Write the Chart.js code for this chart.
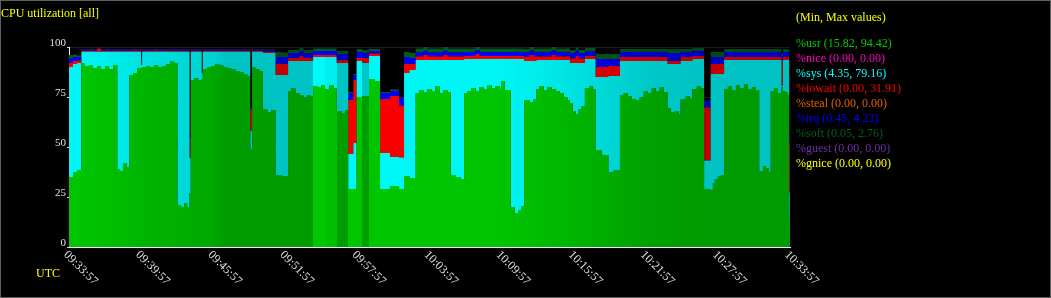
<!DOCTYPE html>
<html>
<head>
<meta charset="utf-8">
<title>CPU utilization [all]</title>
<script src="https://cdn.jsdelivr.net/npm/chart.js@4.4.1/dist/chart.umd.min.js"></script>
<style>
  html, body { margin: 0; padding: 0; background: #000; }
  #wrap { width: 1051px; height: 298px; }
</style>
</head>
<body>
<div id="wrap"><canvas id="cpuChart" width="1051" height="298"></canvas></div>
<script>
// Sample start times, seconds after 09:33:57
const secs = [
  0, 20, 40,
  62, 80, 100, 120, 140, 160, 180, 200, 220,
  241, 255, 270, 287,
  302, 320, 340, 360, 365, 385, 405, 425, 445, 465, 485, 505, 525,
  541, 560, 575, 590, 602,
  608, 625, 645, 663,
  668, 690, 710, 730, 750, 770, 790, 810, 830, 850, 870, 890, 905,
  914, 930, 950,
  968, 990, 1010,
  1031, 1060,
  1094, 1110, 1130, 1150, 1170, 1190, 1205,
  1219, 1240, 1260,
  1278, 1300, 1320,
  1336, 1360, 1380,
  1394, 1420,
  1436, 1464, 1498, 1525,
  1553, 1603, 1648, 1673, 1700,
  1731, 1750, 1770, 1790, 1810, 1830, 1850, 1870, 1890,
  1906, 1930, 1955,
  1973, 1990, 2010, 2030, 2050, 2070, 2090, 2110, 2130, 2150, 2160, 2175,
  2206, 2225, 2245, 2260,
  2273, 2300, 2320,
  2334, 2350, 2370, 2390, 2410, 2430, 2450, 2470, 2490,
  2501, 2515, 2530, 2545, 2560,
  2576, 2600, 2615,
  2629, 2660, 2693, 2720,
  2751, 2770, 2790,
  2809, 2830, 2850, 2870, 2890, 2910, 2930, 2950, 2970,
  2988, 3005, 3025, 3045,
  3054, 3080, 3100,
  3113, 3135, 3155,
  3171, 3204, 3215, 3225, 3240, 3255,
  3271, 3290, 3310, 3330, 3350, 3370, 3390, 3410, 3430,
  3446, 3465, 3480, 3495,
  3504, 3520, 3540, 3558, 3565, 3580, 3590,
  3596, 3600,
]

const usr = [
  35, 37.5, 38.5,
  92, 90.5, 91, 89.5, 90.5, 89, 90.5, 89, 91,
  39, 38, 42, 40,
  86, 87, 89.5, 89.5, 90, 90.5, 90, 91, 90, 90.5, 91.5, 93, 92,
  21, 20, 22, 20, 27,
  83.5, 84.5, 83.5, 84,
  89, 90, 90.5, 91.5, 91, 90, 89.5, 89, 88, 87.5, 86.5, 85.5, 49,
  90, 89, 88,
  69, 67.5, 68.5,
  36, 35.5,
  78, 79.5, 77, 76, 75, 76, 75.5,
  80.5, 80, 81,
  79, 81, 79.5,
  68, 67, 68.5,
  29, 29,
  75, 75.5, 84, 83,
  29, 30.5, 29, 35.5, 34.5,
  77, 78.5, 77.5, 79, 78, 80.5, 77, 78.5, 77.5,
  36, 35, 34,
  77, 78, 79.5, 78, 80, 79, 81, 79.5, 80.5, 79, 83, 78.5,
  20, 17, 18.5, 20.5,
  73.5, 72.5, 74,
  79, 80.5, 78.5, 80, 79, 78, 77, 75, 73.5,
  72, 68, 66.5, 69, 70.5,
  79.5, 80.5, 79,
  48.5, 46, 37.5, 38.5,
  76, 77, 75.5,
  74, 73.5, 75, 78, 77, 79.5, 78, 80, 77.5,
  69.5, 67.5, 68, 66.5,
  74, 75.5, 74.5,
  79, 80.5, 79.5,
  29, 28.5, 32, 34, 35.5, 36,
  79, 80.5, 78.5, 81, 79.5, 81.5, 79, 80, 78.5,
  38, 40.5, 39.5, 37.5,
  78, 79.5, 77, 80, 78, 77.5, 76,
  15.8, 15.8,
]

const sys = [
  55, 54, 53.5,
  5.6, 7.1, 6.6, 8.1, 7.1, 8.6, 7.1, 8.6, 6.6,
  58.6, 59.6, 55.6, 57.6,
  11.6, 10.6, 8.1, 1.5, 7.6, 7.1, 7.6, 6.6, 7.6, 7.1, 6.1, 4.6, 5.6,
  76.6, 77.6, 75.6, 77.6, 17.5,
  14.1, 13.1, 14.1, 3,
  8.6, 7.6, 7.1, 6.1, 6.6, 7.6, 8.1, 8.6, 9.6, 10.1, 11.1, 12.1, 9,
  7.6, 8.6, 9.6,
  28, 29.5, 28.5,
  50, 50.5,
  15, 13.5, 16, 17, 18, 17, 17.5,
  14.5, 15, 14,
  16, 14, 15.5,
  24, 25, 23.5,
  17.5, 23,
  18, 16.5, 11.5, 12.5,
  18, 14.5, 15.8, 51.5, 54,
  16.5, 15, 16, 14.5, 15.5, 13, 16.5, 15, 16,
  57.5, 58.5, 59.5,
  17, 16, 14.5, 16, 14, 15, 13, 14.5, 13.5, 15, 11, 15.5,
  74, 77, 75.5, 73.5,
  19.5, 20.5, 19,
  14.5, 13, 15, 13.5, 14.5, 15.5, 16.5, 18.5, 20,
  20, 24, 25.5, 23, 21.5,
  14.5, 13.5, 15,
  36.5, 39, 48, 47,
  17, 16, 17.5,
  19, 19.5, 18, 15, 16, 13.5, 15, 13, 15.5,
  22, 24, 23.5, 25,
  19, 17.5, 18.5,
  15, 13.5, 14.5,
  14.2, 58, 54.5, 52.5, 51, 50.5,
  14.5, 13, 15, 12.5, 14, 12, 14.5, 13.5, 15,
  55.5, 53, 54, 56,
  15.5, 14, 16.5, 0.5, 15.5, 16, 17.5,
  11.5, 11.5,
]

const iowait = [
  2, 1.5, 1.2,
  0.5, 0.4, 0.6, 0.5, 1.5, 0.5, 0.5, 0.4, 0.5,
  0.5, 0.5, 0.5, 0.5,
  0.5, 0.6, 0.5, 2.5, 0.5, 0.5, 0.5, 0.6, 0.5, 0.5, 0.5, 0.5, 0.5,
  0.5, 0.5, 0.5, 0.5, 10,
  0.5, 0.5, 0.5, 2,
  0.5, 0.5, 0.5, 0.5, 0.5, 0.5, 0.5, 0.5, 0.5, 0.5, 0.5, 0.5, 11,
  0.5, 0.5, 0.5,
  0.6, 0.6, 0.6,
  5.5, 5.5,
  1.5, 1.5, 1.5, 2.5, 1.5, 1.5, 1.5,
  1, 1, 1,
  1, 1, 1,
  1.5, 1.5, 1.5,
  27, 31.5,
  1.5, 2.5, 1.2, 1.2,
  27, 30.5, 25.8, 4.5, 3,
  1.7, 1.7, 2.5, 1.7, 1.7, 1.7, 1.7, 2.5, 1.7,
  1.7, 1.7, 1.7,
  1.5, 1.5, 1.5, 2.5, 1.5, 1.5, 1.5, 1.5, 1.5, 1.5, 1.5, 1.5,
  1.5, 1.5, 1.5, 1.5,
  2, 3, 2,
  1.8, 1.8, 1.8, 1.8, 2.5, 1.8, 1.8, 1.8, 1.8,
  2.2, 2.2, 3.5, 2.2, 2.2,
  1.5, 1.5, 1.5,
  5, 5, 5, 5,
  2, 2, 2,
  2, 2, 2, 2, 2, 2, 2, 2, 2,
  1.5, 1.5, 1.5, 1.5,
  2, 2, 2,
  1.5, 1.5, 1.5,
  26.6, 5, 5, 5, 5, 5,
  1.5, 1.5, 1.5, 1.5, 1.5, 1.5, 1.5, 1.5, 1.5,
  1.5, 1.5, 1.5, 1.5,
  1.5, 1.5, 1.5, 12.5, 1.5, 1.5, 1.5,
  25, 25,
]

const irq = [
  2.5, 2, 1.7,
  0.6, 0.7, 0.6, 0.6, 0.5, 0.6, 0.7, 0.6, 0.6,
  0.6, 0.6, 0.6, 0.6,
  0.6, 0.6, 0.6, 0.5, 0.6, 0.6, 0.6, 0.6, 0.6, 0.6, 0.6, 0.6, 0.6,
  0.6, 0.6, 0.6, 0.6, 1,
  0.6, 0.6, 0.6, 0.5,
  0.6, 0.6, 0.6, 0.6, 0.6, 0.6, 0.6, 0.6, 0.6, 0.6, 0.6, 0.6, 1,
  0.6, 0.6, 0.6,
  0.8, 0.8, 0.8,
  3.5, 3.5,
  2.5, 2.5, 2.5, 2.5, 2.5, 2.5, 2.5,
  2, 2, 2,
  2, 2, 2,
  3, 3, 3,
  3.5, 2.5,
  3, 2.5, 1.3, 1.3,
  3, 2.5, 4.2, 3.5, 3,
  2.1, 2.1, 2.1, 2.1, 2.1, 2.1, 2.1, 2.1, 2.1,
  2.1, 2.1, 2.1,
  2, 2, 2, 2, 2, 2, 2, 2, 2, 2, 2, 2,
  2, 2, 2, 2,
  2.3, 2.3, 2.3,
  2.2, 2.2, 2.2, 2.2, 2.2, 2.2, 2.2, 2.2, 2.2,
  2.8, 2.8, 2.8, 2.8, 2.8,
  2.2, 2.2, 2.2,
  4, 4, 3.5, 3.5,
  2.5, 2.5, 2.5,
  2.5, 2.5, 2.5, 2.5, 2.5, 2.5, 2.5, 2.5, 2.5,
  4, 4, 4, 4,
  2.5, 2.5, 2.5,
  2.5, 2.5, 2.5,
  3.3, 3.5, 3.5, 3.5, 3.5, 3.5,
  2.5, 2.5, 2.5, 2.5, 2.5, 2.5, 2.5, 2.5, 2.5,
  2.5, 2.5, 2.5, 2.5,
  2.5, 2.5, 2.5, 2.5, 2.5, 2.5, 2.5,
  4.2, 4.2,
]

const soft = [
  1.5, 1.2, 0.9,
  0.3, 0.3, 0.3, 0.3, 0.3, 0.3, 0.3, 0.3, 0.3,
  0.3, 0.3, 0.3, 0.3,
  0.3, 0.3, 0.3, 0.3, 0.3, 0.3, 0.3, 0.3, 0.3, 0.3, 0.3, 0.3, 0.3,
  0.3, 0.3, 0.3, 0.3, 0.3,
  0.3, 0.3, 0.3, 0.3,
  0.3, 0.3, 0.3, 0.3, 0.3, 0.3, 0.3, 0.3, 0.3, 0.3, 0.3, 0.3, 0.2,
  0.3, 0.3, 0.3,
  0.4, 0.4, 0.4,
  2.5, 2.3,
  1.5, 1.5, 1.5, 1.5, 1.5, 1.5, 1.5,
  1.2, 1.2, 1.2,
  1.2, 1.2, 1.2,
  1.5, 1.5, 1.5,
  0.5, 0.5,
  1.5, 1.5, 1, 1,
  0.5, 0.8, 0.1, 2.5, 2.5,
  2, 2, 2, 2, 2, 2, 2, 2, 2,
  2, 2, 2,
  1.8, 1.8, 1.8, 1.8, 1.8, 1.8, 1.8, 1.8, 1.8, 1.8, 1.8, 1.8,
  1.8, 1.8, 1.8, 1.8,
  1.8, 1.8, 1.8,
  1.8, 1.8, 1.8, 1.8, 1.8, 1.8, 1.8, 1.8, 1.8,
  1.5, 1.5, 1.5, 1.5, 1.5,
  1.8, 1.8, 1.8,
  2.5, 2.5, 2.5, 2.5,
  1.5, 1.5, 1.5,
  1.5, 1.5, 1.5, 1.5, 1.5, 1.5, 1.5, 1.5, 1.5,
  2, 2, 2, 2,
  1.5, 1.5, 1.5,
  1.5, 1.5, 1.5,
  0.1, 2.5, 2.5, 2.5, 2.5, 2.5,
  1.5, 1.5, 1.5, 1.5, 1.5, 1.5, 1.5, 1.5, 1.5,
  1.5, 1.5, 1.5, 1.5,
  1.5, 1.5, 1.5, 1.5, 1.5, 1.5, 1.5,
  0.1, 0.1,
]

const xTickSecs = [0, 360, 720, 1080, 1440, 1800, 2160, 2520, 2880, 3240, 3600]
const xTickLabels = [
  "09:33:57", "09:39:57", "09:45:57", "09:51:57", "09:57:57", "10:03:57",
  "10:09:57", "10:15:57", "10:21:57", "10:27:57", "10:33:57",
]

const legendLabels = [
  "%usr (15.82, 94.42)",
  "%nice (0.00, 0.00)",
  "%sys (4.35, 79.16)",
  "%iowait (0.00, 31.91)",
  "%steal (0.00, 0.00)",
  "%irq (0.45, 4.23)",
  "%soft (0.05, 2.76)",
  "%guest (0.00, 0.00)",
  "%gnice (0.00, 0.00)",
]
const legendColors = ["#00cc00", "#ff00bf", "#00ffff", "#ff0000", "#e85f00", "#0000ff", "#006020", "#7030a0", "#ffff00"]

// Darkening across the plot (time in seconds, black alpha)
const shadeStops = [
  [0, 0.03], [150, 0.06], [400, 0.12], [720, 0.18], [780, 0.23],
  [1217, 0.23], [1218, 0.02], [1276, 0.02], [1277, 0.07], [1336, 0.07], [1337, 0.23],
  [1391, 0.23], [1392, 0.03], [1461, 0.03], [1462, 0.22], [1496, 0.22], [1497, 0.03],
  [2150, 0.04], [2400, 0.09], [2650, 0.15], [2880, 0.21], [3150, 0.24], [3600, 0.24],
]

const SERIF = "'Liberation Serif', 'DejaVu Serif', serif"
const YELLOW = "#ffff00"

const toPoints = (vals) => vals.map((v, i) => ({ x: secs[i], y: v }))

const makeSet = (label, vals, color, fill) => ({
  label,
  data: toPoints(vals),
  backgroundColor: color,
  borderColor: "transparent",
  borderWidth: 0,
  pointRadius: 0,
  pointHitRadius: 0,
  stepped: true,
  fill,
})

const shadePlugin = {
  id: "shade",
  afterDatasetsDraw(chart) {
    const { ctx, chartArea: a, scales } = chart
    const w = a.right - a.left
    const g = ctx.createLinearGradient(a.left, 0, a.right, 0)
    shadeStops.forEach(([t, alpha]) => {
      const f = (scales.x.getPixelForValue(t) - a.left) / w
      g.addColorStop(Math.min(1, Math.max(0, f)), `rgba(0,0,0,${alpha})`)
    })
    ctx.save()
    ctx.fillStyle = g
    ctx.fillRect(a.left, a.top, w, a.bottom - a.top)
    ctx.restore()
  },
}

const textPlugin = {
  id: "texts",
  afterDraw(chart) {
    const { ctx, scales } = chart
    ctx.save()
    ctx.textBaseline = "middle"
    ctx.textAlign = "left"
    ctx.font = `12px ${SERIF}`
    ctx.fillStyle = YELLOW
    ctx.fillText("CPU utilization [all]", 1, 14)
    ctx.fillText("UTC", 36, 274)
    ctx.fillText("(Min, Max values)", 796, 18)

    legendLabels.forEach((txt, i) => {
      ctx.fillStyle = legendColors[i]
      ctx.fillText(txt, 796, 43.5 + i * 15)
    })

    // rotated time labels
    ctx.fillStyle = "#e0e0e0"
    xTickSecs.forEach((t, i) => {
      const px = scales.x.getPixelForValue(t)
      ctx.save()
      ctx.translate(px - 3.5, 253)
      ctx.rotate(Math.PI / 4)
      ctx.fillText(xTickLabels[i], 0, 0)
      ctx.restore()
    })

    ctx.strokeStyle = "#606060"
    ctx.lineWidth = 1
    ctx.strokeRect(0.5, 0.5, chart.width - 1, chart.height - 1)
    ctx.restore()
  },
}

const chart = new Chart(document.getElementById("cpuChart"), {
  type: "line",
  data: {
    datasets: [
      makeSet("%usr", usr, "#00cc00", "origin"),
      makeSet("%sys", sys, "#00ffff", "-1"),
      makeSet("%iowait", iowait, "#ff0000", "-1"),
      makeSet("%irq", irq, "#0000ff", "-1"),
      makeSet("%soft", soft, "#006020", "-1"),
    ],
  },
  options: {
    responsive: false,
    animation: false,
    events: [],
    layout: { padding: { top: 47, right: 261, left: 0, bottom: 0 } },
    plugins: {
      legend: { display: false },
      tooltip: { enabled: false },
    },
    scales: {
      x: {
        type: "linear",
        min: 0,
        max: 3600,
        z: 1,
        grid: { display: false },
        border: { display: true, color: "#ffffff", width: 1 },
        ticks: { display: false, stepSize: 360 },
        afterFit: (s) => {
          s.height = 51
        },
      },
      y: {
        stacked: true,
        min: 0,
        max: 100,
        z: 1,
        grid: {
          color: (c) => (c.tick && c.tick.value === 0 ? "rgba(0,0,0,0)" : "rgba(255,255,255,0.13)"),
          tickColor: "#d8d8d8",
          tickLength: 2,
        },
        border: { display: true, color: "#ffffff", width: 1 },
        ticks: {
          stepSize: 25,
          color: "#e0e0e0",
          padding: 1,
          labelOffset: -4,
          font: { family: SERIF, size: 11 },
          callback: (v) => String(v),
        },
        afterFit: (s) => {
          s.width = 69
        },
      },
    },
  },
  plugins: [shadePlugin, textPlugin],
})
</script>
</body>
</html>
